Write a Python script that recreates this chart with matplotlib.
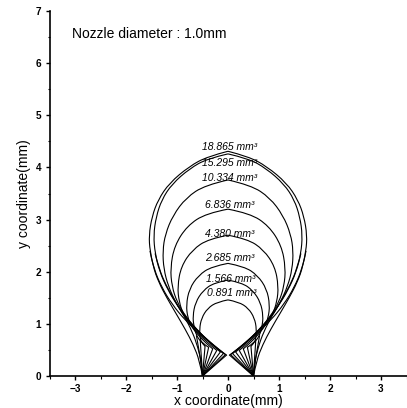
import matplotlib
matplotlib.use('Agg')
import matplotlib.pyplot as plt
from matplotlib.path import Path
from matplotlib.patches import PathPatch

plt.rcParams['font.family'] = ['Liberation Sans', 'DejaVu Sans']

# drop volumes (mm^3) and where their labels sit
volumes = ['0.891', '1.566', '2.685', '4.380', '6.836', '10.334', '15.295', '18.865']
label_x = [0.08, 0.06, 0.04, 0.04, 0.04, 0.04, 0.04, 0.04]
label_y = [1.60, 1.86, 2.27, 2.73, 3.28, 3.79, 4.08, 4.40]

nozzle_r = 0.5

# right half of each drop: apex -> down the side
upper_profiles = [
    [(0, 1.46), (0.21, 1.42), (0.40, 1.30), (0.52, 1.11), (0.56, 0.90), (0.545, 0.70)],
    [(0, 1.84), (0.27, 1.79), (0.49, 1.64), (0.64, 1.41), (0.69, 1.15), (0.67, 0.95), (0.62, 0.78)],
    [(0, 2.16), (0.32, 2.10), (0.58, 1.93), (0.76, 1.67), (0.82, 1.36), (0.79, 1.12), (0.72, 0.95)],
    [(0, 2.70), (0.38, 2.63), (0.70, 2.42), (0.92, 2.10), (0.99, 1.72), (0.96, 1.42), (0.87, 1.17)],
    [(0, 3.20), (0.43, 3.12), (0.80, 2.88), (1.05, 2.50), (1.13, 2.07), (1.10, 1.72), (1.00, 1.42)],
    [(0, 3.76), (0.45, 3.66), (0.82, 3.42), (1.08, 3.08), (1.23, 2.72), (1.28, 2.40), (1.26, 2.05), (1.17, 1.72)],
    [(0, 4.26), (0.40, 4.17), (0.75, 3.98), (1.10, 3.68), (1.30, 3.38), (1.41, 3.05), (1.46, 2.70), (1.43, 2.35)],
    [(0, 4.31), (0.40, 4.21), (0.76, 4.02), (1.15, 3.70), (1.37, 3.38), (1.49, 3.06), (1.55, 2.70), (1.53, 2.40)],
]

# inward branch that runs down the diagonal to a tip near the axis
inner_branches = [
    [(0.50, 0.62), (0.45, 0.57)],
    [(0.53, 0.65), (0.38, 0.55)],
    [(0.58, 0.78), (0.42, 0.62), (0.30, 0.52)],
    [(0.70, 0.93), (0.45, 0.68), (0.22, 0.49)],
    [(0.83, 1.14), (0.58, 0.86), (0.35, 0.63), (0.15, 0.46)],
    [(1.03, 1.42), (0.85, 1.13), (0.57, 0.84), (0.30, 0.60), (0.09, 0.43)],
    [(1.34, 2.00), (1.18, 1.65), (0.98, 1.33), (0.75, 1.03), (0.48, 0.76), (0.24, 0.56), (0.05, 0.41)],
    [(1.45, 2.05), (1.30, 1.70), (1.10, 1.38), (0.85, 1.08), (0.55, 0.80), (0.28, 0.58), (0.03, 0.40)],
]

# neck down to the nozzle edge (only where it is visible)
outer_branches = {
    0: [(0.545, 0.70), (0.53, 0.45), (0.51, 0.20), (0.5, 0.0)],
    1: [(0.62, 0.78), (0.57, 0.50), (0.52, 0.20), (0.5, 0.0)],
    6: [(1.43, 2.35), (1.35, 2.05), (1.22, 1.75), (1.05, 1.45), (0.86, 1.15), (0.70, 0.85),
        (0.59, 0.55), (0.52, 0.25), (0.5, 0.0)],
    7: [(1.53, 2.40), (1.47, 2.10), (1.36, 1.80), (1.20, 1.50), (1.02, 1.20), (0.84, 0.90),
        (0.68, 0.60), (0.56, 0.30), (0.5, 0.0)],
}


def smooth(ax, pts, sign):
    # quadratic bezier through the midpoints of the read points
    pts = [(sign * x, y) for x, y in pts]
    verts = [pts[0]]
    codes = [Path.MOVETO]
    if len(pts) == 2:
        verts.append(pts[1])
        codes.append(Path.LINETO)
    else:
        for i in range(1, len(pts) - 2):
            mid = ((pts[i][0] + pts[i + 1][0]) / 2, (pts[i][1] + pts[i + 1][1]) / 2)
            verts += [pts[i], mid]
            codes += [Path.CURVE3, Path.CURVE3]
        verts += [pts[-2], pts[-1]]
        codes += [Path.CURVE3, Path.CURVE3]
    ax.add_patch(PathPatch(Path(verts, codes), fc='none', ec='black', lw=0.8))


fig = plt.figure(figsize=(4.07, 4.08), dpi=100)
ax = fig.add_axes([49.5 / 407, 32 / 408, 357 / 407, 365 / 408])

for i in range(len(volumes)):
    for s in (1, -1):
        main = upper_profiles[i] + inner_branches[i]
        smooth(ax, main, s)
        tip = inner_branches[i][-1]
        ax.plot([s * tip[0], s * nozzle_r], [tip[1], 0], color='black', lw=0.8)
        if i in outer_branches:
            smooth(ax, outer_branches[i], s)
    ax.text(label_x[i], label_y[i], volumes[i] + ' mm³', fontsize=7.5, style='italic',
            ha='center', va='center')

ax.text(-3.05, 6.56, 'Nozzle diameter : 1.0mm', fontsize=10, va='center', ha='left')

ax.set_xlim(-3.5, 3.5)
ax.set_ylim(0, 7)
ax.spines['top'].set_visible(False)
ax.spines['right'].set_visible(False)
ax.spines['left'].set_linewidth(1.2)
ax.spines['bottom'].set_linewidth(1.2)
ax.set_xticks(range(-3, 4))
ax.set_xticks([-3.5 + 0.5 * k for k in range(15)], minor=True)
ax.set_yticks(range(0, 8))
ax.set_yticks([0.5 * k for k in range(15)], minor=True)
ax.tick_params(which='major', direction='out', length=3, width=1, labelsize=7.2, pad=3)
ax.tick_params(which='minor', direction='out', length=1.8, width=0.8)
for lab in ax.get_xticklabels() + ax.get_yticklabels():
    lab.set_fontweight('bold')

ax.set_xlabel('x coordinate(mm)', fontsize=10, labelpad=0)
ax.set_ylabel('y coordinate(mm)', fontsize=10, labelpad=3)

plt.savefig('out.png', dpi=100)
